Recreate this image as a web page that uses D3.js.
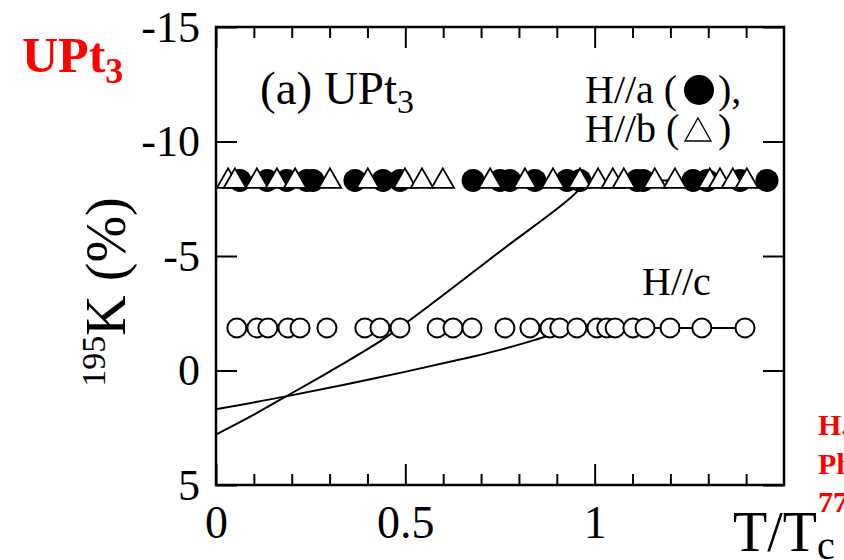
<!DOCTYPE html>
<html>
<head>
<meta charset="utf-8">
<script src="https://cdn.jsdelivr.net/npm/d3@7"></script>
<style>
  body { margin: 0; background: #fff; }
  svg { display: block; font-family: "Liberation Serif", "Times New Roman", serif; }
</style>
</head>
<body>
<div id="chart"></div>
<script>
// H//a (filled circles)
var tHa = [0.063, 0.135, 0.187, 0.240, 0.256, 0.367, 0.441, 0.486, 0.679, 0.750,
           0.776, 0.842, 0.927, 0.961, 1.112, 1.128, 1.260, 1.297, 1.384, 1.455];
var kHa = [-8.3, -8.3, -8.3, -8.3, -8.3, -8.3, -8.3, -8.3, -8.3, -8.3,
           -8.3, -8.3, -8.3, -8.3, -8.3, -8.3, -8.3, -8.3, -8.3, -8.3];

// H//b (open triangles)
var tHb = [0.032, 0.050, 0.108, 0.161, 0.209, 0.301, 0.401, 0.499, 0.544, 0.599, 0.724, 0.816,
           0.890, 0.961, 1.009, 1.048, 1.077, 1.159, 1.212, 1.304, 1.331, 1.365, 1.402];
var kHb = [-8.3, -8.3, -8.3, -8.3, -8.3, -8.3, -8.3, -8.3, -8.3, -8.3, -8.3, -8.3,
           -8.3, -8.3, -8.3, -8.3, -8.3, -8.3, -8.3, -8.3, -8.3, -8.3, -8.3];

// H//c (open circles)
var tHc = [0.055, 0.108, 0.137, 0.190, 0.222, 0.293, 0.393, 0.433, 0.486, 0.584, 0.626, 0.676, 0.763,
           0.829, 0.882, 0.908, 0.953, 1.006, 1.032, 1.054, 1.101, 1.133, 1.199, 1.283, 1.397];
var kHc = [-1.86, -1.86, -1.86, -1.86, -1.86, -1.86, -1.86, -1.86, -1.86, -1.86, -1.86, -1.86, -1.86,
           -1.86, -1.86, -1.86, -1.86, -1.86, -1.86, -1.86, -1.86, -1.86, -1.86, -1.86, -1.86];

// calculated curves
var fitAbT = [0, 0.1, 0.185, 0.3, 0.44, 0.512, 0.75, 0.953, 0.972, 1.05, 1.4];
var fitAbK = [2.8, 1.93, 1.13, 0.05, -1.35, -2.2, -5.2, -7.8, -8.3, -8.3, -8.3];
var fitCT = [0, 0.185, 0.42, 0.65, 0.75, 0.908, 0.93, 1.0, 1.4];
var fitCK = [1.69, 1.13, 0.34, -0.5, -0.9, -1.7, -1.86, -1.86, -1.86];

var xTicks = [0, 0.5, 1];
var xMinor = [0.1, 0.2, 0.3, 0.4, 0.6, 0.7, 0.8, 0.9, 1.1, 1.2, 1.3, 1.4];
var yTicks = [-15, -10, -5, 0, 5];

var W = 844, H = 560;
var plotL = 216, plotR = 784, plotT = 27, plotB = 485;

var svg = d3.select("#chart").append("svg")
  .attr("width", W).attr("height", H);

var x = d3.scaleLinear().domain([0, 1.5]).range([plotL, plotR]);
var y = d3.scaleLinear().domain([-15, 5]).range([plotT, plotB]);

// curves (drawn under the markers)
var line = d3.line().curve(d3.curveCatmullRom.alpha(0.5))
  .x(function(d) { return x(d[0]); })
  .y(function(d) { return y(d[1]); });

[[fitAbT, fitAbK], [fitCT, fitCK]].forEach(function(s) {
  svg.append("path")
    .datum(s[0].map(function(t, i) { return [t, s[1][i]]; }))
    .attr("d", line)
    .attr("fill", "none")
    .attr("stroke", "#000")
    .attr("stroke-width", 2)
    .attr("stroke-linejoin", "round");
});

// H//c open circles
svg.selectAll("circle.hc")
  .data(tHc.map(function(t, i) { return [t, kHc[i]]; }))
  .enter().append("circle")
  .attr("class", "hc")
  .attr("cx", function(d) { return x(d[0]); })
  .attr("cy", function(d) { return y(d[1]); })
  .attr("r", 9.5)
  .attr("fill", "#fff")
  .attr("stroke", "#000")
  .attr("stroke-width", 2);

// H//a filled circles
svg.selectAll("circle.ha")
  .data(tHa.map(function(t, i) { return [t, kHa[i]]; }))
  .enter().append("circle")
  .attr("class", "ha")
  .attr("cx", function(d) { return x(d[0]); })
  .attr("cy", function(d) { return y(d[1]); })
  .attr("r", 11.5)
  .attr("fill", "#000");

// H//b open triangles
var tri = d3.symbol().type(d3.symbolTriangle).size(220);
svg.selectAll("path.hb")
  .data(tHb.map(function(t, i) { return [t, kHb[i]]; }))
  .enter().append("path")
  .attr("class", "hb")
  .attr("d", tri)
  .attr("transform", function(d) { return "translate(" + x(d[0]) + "," + (y(d[1]) + 1) + ")"; })
  .attr("fill", "#fff")
  .attr("stroke", "#000")
  .attr("stroke-width", 1.8);

// axes, ticks pointing inward on all four sides
function styleAxis(g) {
  g.select(".domain").remove();
  g.selectAll(".tick line").attr("stroke", "#000").attr("stroke-width", 2);
  g.selectAll(".tick text").attr("fill", "#000")
    .style("font-family", "Liberation Serif, serif");
}

svg.append("g").attr("transform", "translate(0," + plotB + ")")
  .call(d3.axisBottom(x).tickValues(xMinor).tickSize(-11).tickFormat(""))
  .call(styleAxis);
svg.append("g").attr("transform", "translate(0," + plotT + ")")
  .call(d3.axisTop(x).tickValues(xMinor).tickSize(-11).tickFormat(""))
  .call(styleAxis);
svg.append("g").attr("transform", "translate(0," + plotB + ")")
  .call(d3.axisBottom(x).tickValues(xTicks).tickSize(-21).tickPadding(20)
    .tickFormat(function(d) { return d; }))
  .call(styleAxis)
  .selectAll(".tick text").attr("font-size", 46);
svg.append("g").attr("transform", "translate(0," + plotT + ")")
  .call(d3.axisTop(x).tickValues(xTicks).tickSize(-21).tickFormat(""))
  .call(styleAxis);
svg.append("g").attr("transform", "translate(" + plotL + ",0)")
  .call(d3.axisLeft(y).tickValues(yTicks).tickSize(-21).tickPadding(16)
    .tickFormat(function(d) { return d; }))
  .call(styleAxis)
  .selectAll(".tick text").attr("font-size", 44);
svg.append("g").attr("transform", "translate(" + plotR + ",0)")
  .call(d3.axisRight(y).tickValues(yTicks).tickSize(-21).tickFormat(""))
  .call(styleAxis);

svg.append("rect")
  .attr("x", plotL).attr("y", plotT)
  .attr("width", plotR - plotL).attr("height", plotB - plotT)
  .attr("fill", "none").attr("stroke", "#000").attr("stroke-width", 2.5);

// axis titles
var xt = svg.append("text").attr("x", 733).attr("y", 551).attr("fill", "#000");
xt.append("tspan").attr("font-size", 56).text("T/T");
xt.append("tspan").attr("font-size", 40).attr("dy", 8).text("c");

var yt = svg.append("text")
  .attr("transform", "translate(125,292) rotate(-90)")
  .attr("text-anchor", "middle").attr("fill", "#000");
yt.append("tspan").attr("font-size", 34).attr("dy", -20).text("195");
yt.append("tspan").attr("font-size", 56).attr("dy", 20).text("K (%)");

// panel label
var pl = svg.append("text").attr("x", 260).attr("y", 104).attr("fill", "#000");
pl.append("tspan").attr("font-size", 47).text("(a) UPt");
pl.append("tspan").attr("font-size", 34).attr("dy", 9).text("3");

// legend
svg.append("text").attr("x", 585).attr("y", 103).attr("font-size", 40).text("H//a (");
svg.append("circle").attr("cx", 699).attr("cy", 90).attr("r", 15).attr("fill", "#000");
svg.append("text").attr("x", 718).attr("y", 103).attr("font-size", 40).text("),");
svg.append("text").attr("x", 585).attr("y", 142).attr("font-size", 40).text("H//b (");
svg.append("path")
  .attr("d", "M698,118 L711,141 L685,141 Z")
  .attr("fill", "#fff").attr("stroke", "#000").attr("stroke-width", 1.4);
svg.append("text").attr("x", 718).attr("y", 142).attr("font-size", 40).text(")");
svg.append("text").attr("x", 642).attr("y", 295).attr("font-size", 40).text("H//c");

// red annotations
var ut = svg.append("text").attr("x", 22).attr("y", 72)
  .attr("fill", "#ff0000").attr("font-weight", "bold");
ut.append("tspan").attr("font-size", 50).text("UPt");
ut.append("tspan").attr("font-size", 36).attr("dy", 11).text("3");

var refLines = ["H. Tou et al.,", "Phys. Rev. Lett.", "77, 1374 (1996)"];
svg.selectAll("text.ref")
  .data(refLines)
  .enter().append("text")
  .attr("class", "ref")
  .attr("x", 818)
  .attr("y", function(d, i) { return 435 + i * 38.5; })
  .attr("font-size", 30)
  .attr("font-weight", "bold")
  .attr("fill", "#ff0000")
  .text(function(d) { return d; });
</script>
</body>
</html>
